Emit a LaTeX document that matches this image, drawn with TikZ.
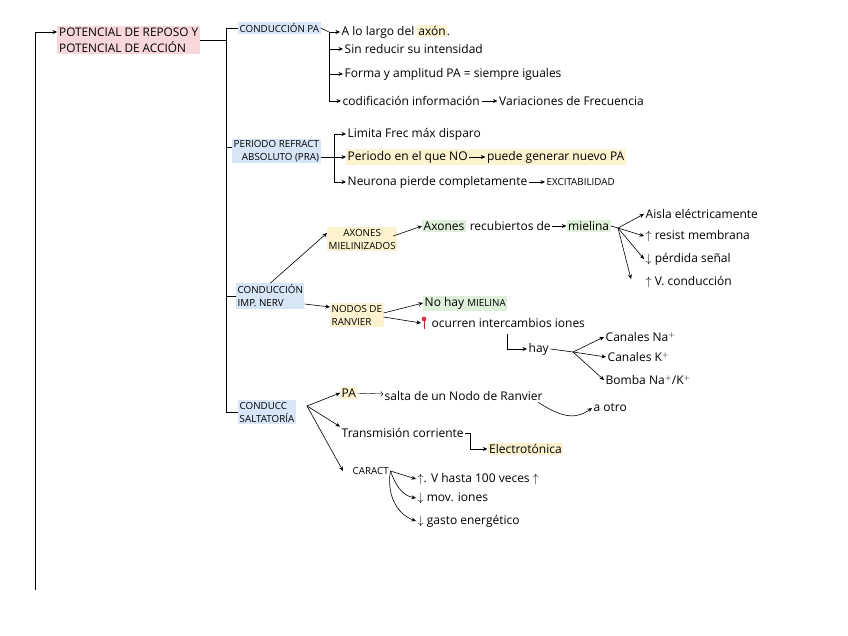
\documentclass[tikz,border=0pt]{standalone}
\usepackage{fontspec}
\setmainfont{Open Sans}
\usetikzlibrary{arrows.meta,backgrounds,positioning}
\definecolor{pinkhl}{RGB}{248,215,218}
\definecolor{bluehl}{RGB}{214,230,246}
\definecolor{yellowhl}{RGB}{253,242,207}
\definecolor{greenhl}{RGB}{222,240,218}
\definecolor{pinred}{RGB}{220,50,60}
\newcommand{\handfont}{\fontsize{12}{13}\selectfont}
\newcommand{\capfont}{\fontsize{9.8}{13}\selectfont}
\newcommand{\hly}[1]{{\setlength{\fboxsep}{1pt}\colorbox{yellowhl}{#1}}}
\tikzset{
  link/.style={-{Stealth[length=4.5pt,width=4pt]},semithick},
  bar/.style={semithick},
  txt/.style={anchor=west,inner sep=1.5pt,font=\handfont},
  captxt/.style={txt,font=\capfont},
  pinkbox/.style={captxt,fill=pinkhl,font=\fontsize{11.8}{16}\selectfont,inner sep=2pt},
  bluebox/.style={captxt,fill=bluehl},
  yellowbox/.style={txt,fill=yellowhl},
  greenbox/.style={txt,fill=greenhl}
}

\begin{document}
\begin{tikzpicture}[x=1pt,y=-1pt,node distance=6pt and 16pt]
    \useasboundingbox (0,0) rectangle (848,636);
    % main title and spine
    \node[pinkbox,align=left] (title) at (57,40) {POTENCIAL DE REPOSO Y\\POTENCIAL DE ACCIÓN};
    \coordinate (base) at (35,590);
    \coordinate (spine) at (226,28);
    \draw[link] (base) |- ([yshift=8pt]title.west);
    \draw[bar] (title.east) -- (title.east -| spine);

    % conduccion PA
    \node[bluebox] (cpa) at (238,28) {CONDUCCIÓN PA};
    \node[txt] (a1) at (340,32) {A lo largo del \hly{axón}.};
    \node[txt] (a2) at (343,49) {Sin reducir su intensidad};
    \node[txt] (a3) at (343,74) {Forma y amplitud PA = siempre iguales};
    \node[txt] (a4) at (341,101) {codificación información};
    \node[txt,right=of a4] (a5) {Variaciones de Frecuencia};
    \coordinate (b1x) at (329,32);
    \draw[bar] (cpa.east) -- (b1x);
    \draw[link] (b1x) -- (a1.west);
    \draw[link] (b1x) |- (a4.west);
    \draw[link] (b1x |- a2.west) -- (a2.west);
    \draw[link] (b1x |- a3.west) -- (a3.west);
    \draw[link] (a4) -- (a5);

    % periodo refractario
    \node[bluebox,align=right] (pra) at (232,151) {PERIODO REFRACT\\ABSOLUTO (PRA)};
    \node[txt] (p1) at (346,134) {Limita Frec máx disparo};
    \node[txt] (p2) at (346,157) {Periodo en el que NO};
    \node[txt,right=of p2] (p2b) {puede generar nuevo PA};
    \node[txt] (p3) at (346,182) {Neurona pierde completamente};
    \node[captxt,right=of p3] (p3b) {EXCITABILIDAD};
    \begin{scope}[on background layer]
      \fill[yellowhl] (p2.south west) rectangle (p2b.north east);
    \end{scope}
    \coordinate (b2x) at (334,134);
    \draw[link] (pra.east |- p2.west) -- (p2.west);
    \draw[link] (b2x) -- (p1.west);
    \draw[link] (b2x) |- (p3.west);
    \draw[link] (p2) -- (p2b);
    \draw[link] (p3) -- (p3b);

    % conduccion impulso nervioso
    \node[bluebox,align=left] (cin) at (236,296) {CONDUCCIÓN\\IMP. NERV};
    \node[captxt,fill=yellowhl,align=center] (axm) at (327,239) {AXONES\\MIELINIZADOS};
    \node[greenbox] (m1) at (422,226) {Axones};
    \node[txt,right=2pt of m1] (m2) {recubiertos de};
    \node[greenbox,right=14pt of m2] (m3) {mielina};
    \node[txt] (f1) at (644,214) {Aisla eléctricamente};
    \node[txt] (f2) at (644,236) {$\uparrow$ resist membrana};
    \node[txt] (f3) at (644,259) {$\downarrow$ pérdida señal};
    \node[txt] (f4) at (644,282) {$\uparrow$ V. conducción};
    \draw[link] (cin.north) -- ([yshift=6pt]axm.west);
    \draw[link] ([xshift=-4pt,yshift=3pt]axm.east) -- (m1.west);
    \draw[link] (m2) -- (m3);
    \coordinate (fan1) at (618,228);
    \draw[bar] (m3.east) -- (fan1);
    \draw[link] (fan1) -- (f1.west);
    \draw[link] (fan1) -- (f2.west);
    \draw[link] (fan1) -- (f3.west);
    \draw[link] (fan1) -- ([xshift=-13pt,yshift=3pt]f4.west);

    \node[captxt,fill=yellowhl,align=left] (nr) at (330,315) {NODOS DE\\RANVIER};
    \node[greenbox] (n1) at (423,303) {No hay {\capfont MIELINA}};
    \node[txt] (n2) at (430,323) {ocurren intercambios iones};
    \fill[pinred] (424,319) circle (2.4pt);
    \draw[pinred!80!black,thick] (424,320) -- (424,329);
    \draw[link] ([yshift=-8pt]cin.east) -- ([yshift=8pt]nr.west);
    \draw[link] ([yshift=2pt]nr.east) -- (n1.west);
    \draw[link] ([yshift=-2pt]nr.east) -- ([xshift=-9pt]n2.west);
    \node[txt] (hay) at (527,349) {hay};
    \coordinate (hk) at (507,334);
    \draw[link] (hk) |- (hay.west);
    \node[txt] (c1) at (604,337) {Canales Na$^+$};
    \node[txt] (c2) at (606,357) {Canales K$^+$};
    \node[txt] (c3) at (604,380) {Bomba Na$^+$/K$^+$};
    \coordinate (fan2) at (573,352);
    \draw[bar] (hay.east) -- (fan2);
    \draw[link] (fan2) -- (c1.west);
    \draw[link] (fan2) -- (c2.west);
    \draw[link] (fan2) -- (c3.west);

    % conduccion saltatoria
    \node[bluebox,align=left] (salt) at (238,412) {CONDUCC\\SALTATORÍA};
    \draw[bar] (cpa.west) -- (cpa.west -| spine) |- (salt.west);
    \draw[bar] ([yshift=4pt]pra.west) -- ([yshift=4pt]pra.west -| spine);
    \draw[bar] (cin.west) -- (cin.west -| spine);
    \coordinate (fan3) at (307,406);
    \node[yellowbox] (s1) at (340,393) {PA};
    \node[txt] (s1b) at (383,396) {salta de un Nodo de Ranvier};
    \node[txt] (s1c) at (592,408) {a otro};
    \node[txt] (s2) at (340,433) {Transmisión corriente};
    \node[yellowbox] (s3) at ([xshift=22pt,yshift=-16pt]s2.east) {Electrotónica};
    \node[captxt] (s4) at (351,471) {CARACT};
    \draw[link] (fan3) -- (s1.west);
    \draw[link] (fan3) -- (s2.north west);
    \draw[link] (fan3) -- ([xshift=-8pt]s4.west);
    \draw[->] (s1) -- (s1b);
    \draw[link] ([xshift=-6pt]s1b.south east) .. controls (565,420) and (578,418) .. (s1c.west);
    \draw[link] (s2.east) -- ++(5,0) |- (s3.west);
    \node[txt] (k1) at (416,479) {$\uparrow$. V hasta 100 veces $\uparrow$};
    \node[txt] (k2) at (416,498) {$\downarrow$ mov. iones};
    \node[txt] (k3) at (416,521) {$\downarrow$ gasto energético};
    \draw[link] (s4.east) -- (k1.west);
    \draw[link] (s4.east) to[out=-70,in=170] (k2.west);
    \draw[link] (s4.east) to[out=-100,in=160] (k3.west);
\end{tikzpicture}
\end{document}
